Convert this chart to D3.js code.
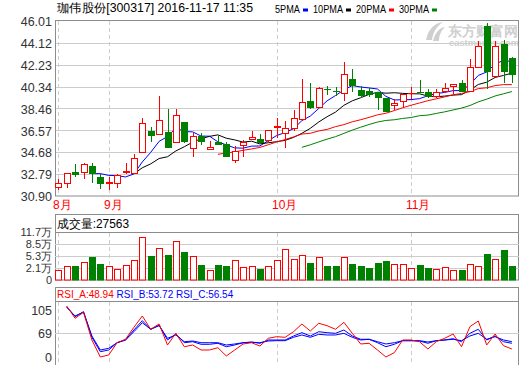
<!DOCTYPE html>
<html><head><meta charset="utf-8">
<script src="https://cdn.jsdelivr.net/npm/d3@7"></script>
<style>
html,body{margin:0;padding:0;background:#fff;}
svg{display:block;}
text{font-family:"Liberation Sans",Arial,sans-serif;}
</style></head><body><svg id="c" width="520" height="365"></svg>
<script>
// ---------- data ----------
const dates = ["08-24","08-25","08-26","08-29","08-30","08-31",
 "09-01","09-02","09-05","09-06","09-07","09-08","09-09","09-12","09-13","09-14","09-19","09-20","09-21","09-22","09-23","09-26","09-27","09-28","09-29","09-30",
 "10-10","10-11","10-12","10-13","10-14","10-17","10-18","10-19","10-20","10-21","10-24","10-25","10-26","10-27","10-28","10-31",
 "11-01","11-02","11-03","11-04","11-07","11-08","11-09","11-10","11-11","11-14","11-15","11-16","11-17"];
const opens  = [31.65,31.99,32.99,32.94,33.49,32.51,32.05,31.99,32.97,32.86,
 34.67,36.54,36.23,36.45,35.59,37.26,35.07,36.08,34.93,35.59,
 35.36,34.01,35.24,35.79,35.82,35.73,36.88,36.40,36.80,37.52,
 39.10,38.61,40.14,39.96,39.77,41.00,40.05,39.96,39.90,39.39,
 38.76,39.10,39.73,39.92,39.85,39.53,39.96,40.34,40.63,39.96,
 42.06,45.60,41.29,44.00,42.79];
const closes = [31.99,32.86,32.82,33.63,32.86,31.99,32.10,32.71,33.06,34.15,
 37.18,36.23,37.46,35.16,37.89,35.59,36.08,35.65,35.10,35.45,
 34.29,34.78,35.53,35.97,35.53,36.60,36.97,36.80,37.66,39.01,
 38.56,40.25,40.11,39.94,41.41,40.48,39.62,39.70,39.47,38.24,
 38.93,39.71,39.77,39.88,39.47,39.90,40.20,40.54,39.90,42.06,
 43.85,41.69,43.88,41.63,41.41];
const highs  = [32.34,32.87,33.66,33.77,33.77,32.80,32.56,32.82,33.75,34.52,
 37.66,36.83,39.56,38.41,38.38,37.29,36.31,36.31,35.65,36.08,
 35.59,35.24,35.73,36.54,36.25,36.60,37.66,37.37,38.32,41.00,
 40.68,40.34,40.42,40.34,42.44,41.86,40.42,40.25,39.90,39.39,
 39.27,39.71,40.34,40.91,40.14,40.14,40.63,40.54,40.91,42.70,
 44.28,45.80,44.28,44.37,42.93];
const lows   = [31.42,31.56,32.56,32.34,31.99,31.48,31.42,31.56,32.80,32.80,
 34.58,35.59,36.17,35.10,35.50,35.45,34.29,35.30,34.93,35.30,
 34.29,33.72,34.27,35.79,35.36,35.53,35.93,35.07,36.51,37.40,
 38.41,38.47,39.62,39.53,39.10,39.85,39.33,39.42,38.32,38.13,
 38.32,38.47,39.27,39.77,39.39,39.39,39.77,39.68,39.85,39.96,
 41.92,40.14,41.20,40.63,40.63];
// volume in 万
const volumes = [1.75,2.63,2.63,3.70,5.03,3.17,2.63,1.93,2.82,4.15,
 10.29,5.30,7.35,5.57,9.22,6.37,5.22,2.90,1.75,2.90,
 2.63,4.15,2.37,2.55,1.93,2.63,4.23,7.09,4.42,5.57,
 3.52,4.95,2.63,2.63,4.95,3.25,2.63,2.10,3.52,3.97,
 3.17,3.17,2.05,2.90,2.10,1.93,2.28,1.75,1.75,3.17,
 2.63,5.83,4.42,6.90,2.63];
// RSI series (index 1..54), in the chart's axis units
const rsiA = [null,111.3,92.0,101.4,48.9,0,5.8,41.1,50.9,77.9,
 95.6,74.8,83.1,34.5,68.1,29.6,34.5,20.1,20.1,26.7,
 2.9,20.1,37.4,41.1,31.6,53.8,58.4,56.6,71.0,83.1,
 72.1,84.2,80.4,74.8,85.7,68.1,37.4,39.4,20.1,0,
 12.4,48.9,48.9,44.0,23.0,44.0,53.8,66.1,29.6,78.9,
 87.8,34.5,66.1,32.5,23.0];
const rsiB = [null,110.2,94.5,102.3,56.6,15.2,20.1,41.1,48.9,73.7,
 88.3,74.8,81.5,48.9,66.1,41.1,44.0,36.5,36.5,39.4,
 29.6,34.5,41.1,43.1,39.4,48.9,48.9,48.9,60.4,69.5,
 60.4,71.0,69.5,68.1,73.7,60.4,50.9,50.9,41.1,29.6,
 36.5,46.9,46.9,46.0,39.4,46.9,48.9,52.6,44.0,68.1,
 74.8,48.9,60.4,44.0,39.4];
const rsiC = [null,109.2,95.6,101.9,60.4,20.1,25.0,41.1,48.9,71.0,
 85.1,74.8,80.4,53.8,63.3,44.0,46.0,41.1,41.1,41.1,
 34.5,37.4,41.1,42.3,41.1,46.0,46.9,46.9,56.6,63.3,
 56.6,65.2,63.3,63.3,68.1,56.6,48.9,50.9,44.0,37.4,
 41.1,46.9,46.9,46.9,43.1,46.9,48.9,50.9,46.9,60.4,
 68.1,50.9,58.4,48.9,44.0];
const priceTicks = [30.90,32.79,34.68,36.57,38.46,40.34,42.23,44.12,46.01];
const volTicks = [0,2.1,5.3,8.5,11.7];
const volTickLabels = ["0","2.1万","5.3万","8.5万","11.7万"];
const rsiTicks = [0,69,105];
const maPeriods = [5,10,20,30];
const maLabels = ["5PMA","10PMA","20PMA","30PMA"];
const maColors = ["#0000ff","#000000","#ff0000","#008000"];
const titleText = "珈伟股份[300317] 2016-11-17 11:35";
const volTitle = "成交量:27563";
const rsiTitles = ["RSI_A:48.94","RSI_B:53.72","RSI_C:56.54"];
const rsiColors = ["#ff0000","#0000ff","#0000ff"];

// ---------- layout ----------
const RED="#ff0000", GREEN="#008000", GRID="#cccccc", FRAME="#8c8c8c";
const L=55, R=519;
const svg = d3.select("#c");
const idx = d3.range(dates.length);
const x = d3.scalePoint().domain(idx).range([58.3, 58.3+8.4*(dates.length-1)]);
const cx = i => Math.round(x(i));
const yP = d3.scaleLinear().domain([30.90,46.01]).range([196,21]);
const yV = d3.scaleLinear().domain(volTicks).range([280,268,256,244,232]);
const yR = d3.scaleLinear().domain(rsiTicks).range([357,333,310]);
const isUp = i => closes[i] >= opens[i];

// month starts
const monthStarts = idx.filter(i => i===0 || dates[i].slice(0,2)!==dates[i-1].slice(0,2));
const monthName = i => (+dates[i].slice(0,2)) + "月";

// ---------- header ----------
svg.append("text").attr("x",57).attr("y",12).attr("font-size",12)
  .attr("font-family","'Noto Sans CJK SC',sans-serif").attr("fill","#000")
  .attr("textLength",196).attr("lengthAdjust","spacingAndGlyphs").text(titleText);
const legW = [25,30,30,30];
let lx = 275;
maLabels.forEach((t,k)=>{
  svg.append("text").attr("x",lx).attr("y",13).attr("font-size",11).attr("fill","#000")
    .attr("textLength",legW[k]).attr("lengthAdjust","spacingAndGlyphs").text(t);
  svg.append("rect").attr("x",lx+legW[k]+3).attr("y",8.5).attr("width",5).attr("height",3).attr("fill",maColors[k]);
  lx += legW[k]+3+5+5;
});

// ---------- watermark ----------
const wm = svg.append("g").attr("fill","#cfcfcf");
wm.append("path").attr("d","M426,40 C428,30 434,23 443,22 C437,26 433,32 432,40 Z");
wm.append("path").attr("d","M433,41 C435,33 439,28 445,27 C441,31 439,35 439,41 Z");
wm.append("text").attr("x",448).attr("y",36).attr("font-size",14).attr("font-weight","bold")
  .attr("font-family","'Noto Sans CJK SC',sans-serif").attr("textLength",70).attr("lengthAdjust","spacingAndGlyphs").text("东方财富网");
wm.append("text").attr("x",449).attr("y",45.5).attr("font-size",9).attr("font-weight","bold")
  .attr("textLength",70).attr("lengthAdjust","spacingAndGlyphs").text("eastmoney.com");

// ---------- price panel ----------
const gp = svg.append("g");
gp.selectAll("line.grid").data(priceTicks.slice(1,-1)).join("line")
  .attr("x1",L).attr("x2",R).attr("y1",d=>Math.round(yP(d))+0.5).attr("y2",d=>Math.round(yP(d))+0.5)
  .attr("stroke",GRID);
gp.selectAll("line.mon").data(monthStarts).join("line")
  .attr("x1",i=>cx(i)+0.5).attr("x2",i=>cx(i)+0.5).attr("y1",21).attr("y2",196)
  .attr("stroke",GRID).attr("stroke-dasharray","4,3");
gp.append("rect").attr("x",L+0.5).attr("y",20.5).attr("width",R-L-1).attr("height",175.5)
  .attr("fill","none").attr("stroke",FRAME);
const ax = gp.append("g").attr("transform",`translate(${L},0)`)
  .call(d3.axisLeft(yP).tickValues(priceTicks).tickSize(0).tickPadding(3).tickFormat(d3.format(".2f")));
ax.select(".domain").remove();
ax.selectAll("text").attr("font-size",12.5).attr("fill","#333").attr("font-family","'Liberation Sans',Arial,sans-serif").attr("dy","0.38em");

// month labels
svg.selectAll("text.mon").data(monthStarts).join("text")
  .attr("x",i=>cx(i)-5).attr("y",209).attr("font-size",12).attr("fill",RED)
  .attr("font-family","'Noto Sans CJK SC',sans-serif").text(monthName);

// MA lines
maPeriods.forEach((n,k)=>{
  const pts = idx.filter(i=>i>=n-1).map(i=>[x(i), yP(d3.mean(closes.slice(i-n+1,i+1)))]);
  gp.append("path").attr("d",d3.line()(pts)).attr("fill","none").attr("stroke",maColors[k]).attr("stroke-width",1);
});
// candles
const cg = gp.append("g");
cg.selectAll("line").data(idx).join("line")
  .attr("x1",i=>cx(i)+0.5).attr("x2",i=>cx(i)+0.5)
  .attr("y1",i=>Math.round(yP(highs[i]))).attr("y2",i=>Math.round(yP(lows[i])))
  .attr("stroke",i=>isUp(i)?RED:GREEN);
cg.selectAll("rect").data(idx).join("rect")
  .attr("x",i=>cx(i)-2.5).attr("width",6)
  .attr("y",i=>Math.round(yP(Math.max(opens[i],closes[i])))+0.5)
  .attr("height",i=>Math.max(0.01,Math.round(Math.abs(yP(opens[i])-yP(closes[i])))))
  .attr("fill",i=>isUp(i)?"#fff":GREEN).attr("stroke",i=>isUp(i)?RED:GREEN);

// ---------- volume panel ----------
const gv = svg.append("g");
gv.append("rect").attr("x",L+0.5).attr("y",214.5).attr("width",R-L-1).attr("height",65.5)
  .attr("fill","none").attr("stroke",FRAME);
gv.selectAll("line.grid").data(volTicks.slice(1)).join("line")
  .attr("x1",L).attr("x2",R).attr("y1",d=>Math.round(yV(d))+0.5).attr("y2",d=>Math.round(yV(d))+0.5)
  .attr("stroke",(d,k)=>k===volTicks.length-2?FRAME:GRID);
gv.selectAll("line.mon").data(monthStarts).join("line")
  .attr("x1",i=>cx(i)+0.5).attr("x2",i=>cx(i)+0.5).attr("y1",233).attr("y2",280)
  .attr("stroke",GRID).attr("stroke-dasharray","4,3");
gv.append("text").attr("x",57).attr("y",227.5).attr("font-size",12)
  .attr("font-family","'Noto Sans CJK SC',sans-serif").attr("fill","#000")
  .attr("textLength",72).attr("lengthAdjust","spacingAndGlyphs").text(volTitle);
const av = gv.append("g").attr("transform",`translate(${L},0)`)
  .call(d3.axisLeft(yV).tickValues(volTicks).tickSize(0).tickPadding(3).tickFormat((d,k)=>volTickLabels[k]));
av.select(".domain").remove();
av.selectAll("text").attr("font-size",11).attr("fill","#333").attr("font-family","'Liberation Sans','Noto Sans CJK SC',sans-serif").attr("dy","0.36em");
gv.selectAll("rect.bar").data(idx).join("rect")
  .attr("x",i=>cx(i)-2.5).attr("width",6)
  .attr("y",i=>Math.round(yV(volumes[i]))+0.5)
  .attr("height",i=>280-Math.round(yV(volumes[i]))-0.5)
  .attr("fill",i=>isUp(i)?"#fff":GREEN).attr("stroke",i=>isUp(i)?RED:GREEN);

// ---------- RSI panel ----------
const gr = svg.append("g");
gr.append("rect").attr("x",L+0.5).attr("y",287.5).attr("width",R-L-1).attr("height",80)
  .attr("fill","none").attr("stroke",FRAME);
gr.append("line").attr("x1",L).attr("x2",R).attr("y1",301.5).attr("y2",301.5).attr("stroke",FRAME);
gr.append("line").attr("x1",L).attr("x2",R).attr("y1",Math.round(yR(69))+0.5).attr("y2",Math.round(yR(69))+0.5).attr("stroke",GRID);
gr.selectAll("line.mon").data(monthStarts).join("line")
  .attr("x1",i=>cx(i)+0.5).attr("x2",i=>cx(i)+0.5).attr("y1",302).attr("y2",365)
  .attr("stroke",GRID).attr("stroke-dasharray","4,3");
const rt = gr.append("text").attr("x",57).attr("y",297.5).attr("font-size",10)
  .attr("font-family","'Liberation Mono','DejaVu Sans Mono',monospace");
rsiTitles.forEach((t,k)=>rt.append("tspan").attr("fill",rsiColors[k]).text(t + (k<rsiTitles.length-1?" ":"")));
const ar = gr.append("g").attr("transform",`translate(${L},0)`)
  .call(d3.axisLeft(yR).tickValues(rsiTicks).tickSize(0).tickPadding(3));
ar.select(".domain").remove();
ar.selectAll("text").attr("font-size",12.5).attr("fill","#333").attr("font-family","'Liberation Sans',Arial,sans-serif").attr("dy","0.38em");
const rline = d3.line().defined(d=>d[1]!=null).x(d=>x(d[0])).y(d=>yR(d[1]));
[[rsiC,"#0000ff"],[rsiB,"#0000ff"],[rsiA,"#ff0000"]].forEach(([s,c])=>{
  gr.append("path").attr("d",rline(s.map((v,i)=>[i,v]))).attr("fill","none").attr("stroke",c).attr("stroke-width",1);
});
</script></body></html>
